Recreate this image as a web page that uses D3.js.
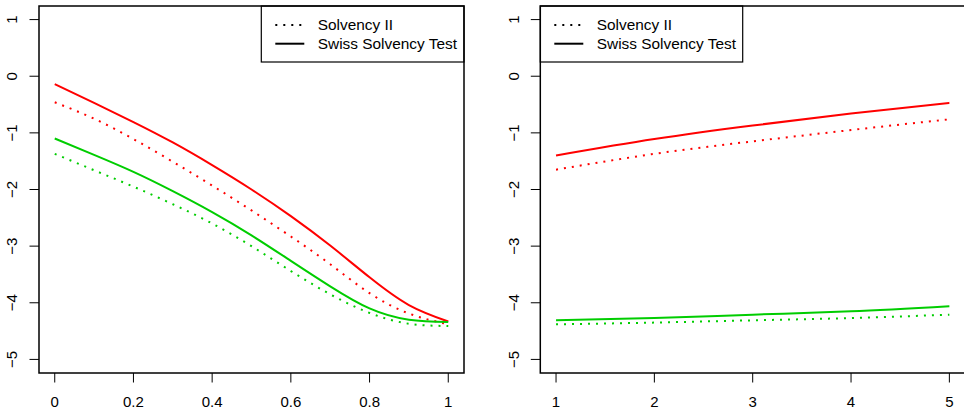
<!DOCTYPE html>
<html>
<head>
<meta charset="utf-8">
<script src="https://cdn.jsdelivr.net/npm/d3@7"></script>
<style>
  body { margin: 0; background: #fff; }
  svg { display: block; font-family: "Liberation Sans", Arial, sans-serif; }
</style>
</head>
<body>
<div class="chart"></div>
<script>
const width = 964;
const height = 412;

// left panel data (x from 0 to 1)
const xLeft = [0, 0.1, 0.2, 0.3, 0.4, 0.5, 0.6, 0.7, 0.8, 0.9, 1];
const leftRedSST = [-0.14, -0.47, -0.81, -1.17, -1.57, -2.00, -2.47, -2.99, -3.55, -4.04, -4.33];
const leftRedSII = [-0.46, -0.75, -1.11, -1.51, -1.93, -2.37, -2.83, -3.32, -3.83, -4.19, -4.38];
const leftGreenSST = [-1.10, -1.39, -1.69, -2.03, -2.40, -2.81, -3.26, -3.71, -4.10, -4.30, -4.34];
const leftGreenSII = [-1.37, -1.66, -1.95, -2.26, -2.60, -3.00, -3.44, -3.85, -4.18, -4.37, -4.41];

// right panel data (x from 1 to 5)
const xRight = [1, 2, 3, 4, 5];
const rightRedSST = [-1.40, -1.11, -0.87, -0.66, -0.47];
const rightRedSII = [-1.65, -1.37, -1.15, -0.95, -0.76];
const rightGreenSST = [-4.31, -4.27, -4.21, -4.15, -4.06];
const rightGreenSII = [-4.38, -4.35, -4.31, -4.27, -4.21];

const yTicks = [-5, -4, -3, -2, -1, 0, 1];
const xTicksLeft = [0, 0.2, 0.4, 0.6, 0.8, 1];
const xTicksRight = [1, 2, 3, 4, 5];
const legendLabels = ["Solvency II", "Swiss Solvency Test"];

const red = "#ff0000";
const green = "#00cd00";
const dotted = "2,6";

const svg = d3.select(".chart")
    .append("svg")
    .attr("width", width)
    .attr("height", height);

const fmt = v => d3.format("")(v);

function panel(opts) {
    const x = d3.scaleLinear().domain(opts.xdom).range([opts.left, opts.right]);
    const y = d3.scaleLinear().domain([-5.24, 1.24]).range([373, 6]);
    const g = svg.append("g");

    const line = d3.line()
        .x(d => x(d[0]))
        .y(d => y(d[1]))
        .curve(d3.curveNatural);

    const series = [
        {vals: opts.redSII, color: red, dash: dotted},
        {vals: opts.greenSII, color: green, dash: dotted},
        {vals: opts.redSST, color: red, dash: null},
        {vals: opts.greenSST, color: green, dash: null}
    ];
    g.selectAll("path.series")
        .data(series)
        .join("path")
        .attr("class", "series")
        .attr("d", s => line(opts.xs.map((v, i) => [v, s.vals[i]])))
        .attr("fill", "none")
        .attr("stroke", s => s.color)
        .attr("stroke-width", 2)
        .attr("stroke-dasharray", s => s.dash);

    // y axis ticks + rotated labels
    g.selectAll("line.yt")
        .data(yTicks)
        .join("line")
        .attr("x1", opts.left).attr("x2", opts.left - 9.5)
        .attr("y1", d => y(d)).attr("y2", d => y(d))
        .attr("stroke", "#000").attr("stroke-width", 1);
    g.selectAll("text.yl")
        .data(yTicks)
        .join("text")
        .attr("transform", d => `translate(${opts.left - 27},${y(d)}) rotate(-90)`)
        .attr("text-anchor", "middle")
        .attr("dy", "0.35em")
        .attr("font-size", 15)
        .text(d => d3.format("d")(d));

    // x axis ticks + labels
    g.selectAll("line.xt")
        .data(opts.xticks)
        .join("line")
        .attr("x1", d => x(d)).attr("x2", d => x(d))
        .attr("y1", 373).attr("y2", 382.5)
        .attr("stroke", "#000").attr("stroke-width", 1);
    g.selectAll("text.xl")
        .data(opts.xticks)
        .join("text")
        .attr("x", d => x(d))
        .attr("y", 407)
        .attr("text-anchor", "middle")
        .attr("font-size", 15)
        .text(fmt);

    // frame
    g.append("rect")
        .attr("x", opts.left).attr("y", 6)
        .attr("width", opts.right - opts.left).attr("height", 367)
        .attr("fill", "none").attr("stroke", "#000").attr("stroke-width", 1.5);

    // legend
    const lg = g.append("g");
    lg.append("rect")
        .attr("x", opts.legX).attr("y", 6)
        .attr("width", opts.legW).attr("height", 56)
        .attr("fill", "none").attr("stroke", "#000").attr("stroke-width", 1.2);
    lg.selectAll("line")
        .data(legendLabels)
        .join("line")
        .attr("x1", opts.legX + 14).attr("x2", opts.legX + 43)
        .attr("y1", (d, i) => 25 + i * 18.7).attr("y2", (d, i) => 25 + i * 18.7)
        .attr("stroke", "#000").attr("stroke-width", 2)
        .attr("stroke-dasharray", (d, i) => i === 0 ? dotted : null);
    lg.selectAll("text")
        .data(legendLabels)
        .join("text")
        .attr("x", opts.legX + 56.5)
        .attr("y", (d, i) => 25 + i * 18.7)
        .attr("dy", "0.35em")
        .attr("font-size", 15.4)
        .text(d => d);
}

panel({
    xdom: [-0.04, 1.04], left: 39, right: 464,
    xs: xLeft, redSST: leftRedSST, redSII: leftRedSII,
    greenSST: leftGreenSST, greenSII: leftGreenSII,
    xticks: xTicksLeft, legX: 261.3, legW: 202.7
});

panel({
    xdom: [0.84, 5.16], left: 540.3, right: 965.1,
    xs: xRight, redSST: rightRedSST, redSII: rightRedSII,
    greenSST: rightGreenSST, greenSII: rightGreenSII,
    xticks: xTicksRight, legX: 540.3, legW: 202.4
});
</script>
</body>
</html>
